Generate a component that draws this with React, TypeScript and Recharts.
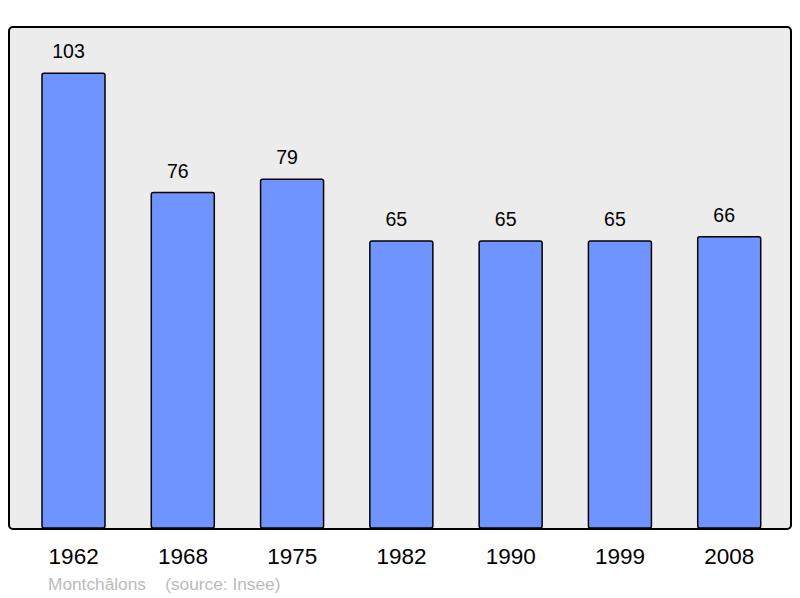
import { Bar, BarChart, LabelList, XAxis, YAxis } from "recharts"

const years = ["1962", "1968", "1975", "1982", "1990", "1999", "2008"]
const population = [103, 76, 79, 65, 65, 65, 66]

const data = years.map((year, i) => ({ year, population: population[i] }))

const font = "'Liberation Sans', Arial, sans-serif"

export default function App() {
  return (
    <div style={{ position: "absolute", left: 0, top: 0, width: 800, height: 598, fontFamily: font }}>
      {/* plot frame */}
      <div
        style={{
          position: "absolute",
          left: 8,
          top: 26,
          width: 780,
          height: 500,
          background: "#ececec",
          border: "2px solid #000",
          borderRadius: 5,
        }}
      />
      <BarChart
        width={800}
        height={598}
        data={data}
        margin={{ top: 27, right: 9, bottom: 30, left: 9 }}
        style={{ position: "absolute", left: 0, top: 0 }}
      >
        <XAxis
          dataKey="year"
          axisLine={false}
          tickLine={false}
          tickSize={0}
          tickMargin={20}
          height={40}
          padding={{ left: 10, right: 7 }}
          tick={{ fill: "#000", fontSize: 22.5, fontFamily: font }}
        />
        <YAxis hide domain={[0, 113.5]} />
        <Bar
          dataKey="population"
          fill="#7094ff"
          stroke="#000"
          strokeWidth={1.5}
          radius={2}
          barSize={63}
          isAnimationActive={false}
        >
          <LabelList
            dataKey="population"
            position="top"
            offset={15}
            dx={-5}
            fill="#000"
            fontSize={19.5}
            fontFamily={font}
          />
        </Bar>
      </BarChart>
      <div style={{ position: "absolute", left: 48, top: 574, fontSize: 17.3, color: "#bbbbbb", whiteSpace: "pre" }}>
        {"Montchâlons    (source: Insee)"}
      </div>
    </div>
  )
}
